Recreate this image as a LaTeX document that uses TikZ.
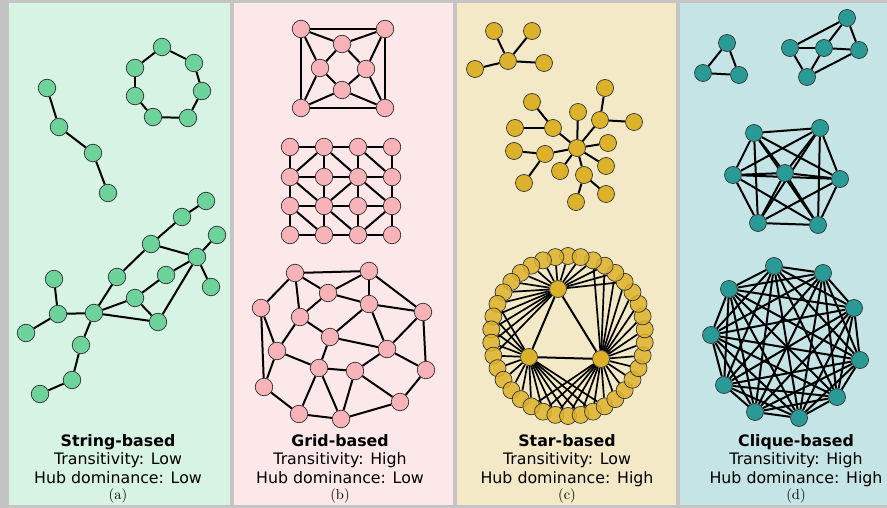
\documentclass[tikz,border=0pt]{standalone}
\usepackage{fontspec}
\newfontfamily\dejavu{DejaVu Sans}
\newfontfamily\lmserif[Extension=.otf]{lmroman10-regular}
\pgfdeclarelayer{bg}
\pgfdeclarelayer{edgelayer}
\pgfsetlayers{bg,edgelayer,main}
\definecolor{bordc}{RGB}{196,196,196}
\definecolor{panA}{RGB}{214,243,228}
\definecolor{panB}{RGB}{253,232,233}
\definecolor{panC}{RGB}{244,233,198}
\definecolor{panD}{RGB}{197,228,230}
\definecolor{nodeA}{RGB}{110,210,155}
\definecolor{nodeB}{RGB}{247,179,183}
\definecolor{nodeC}{RGB}{221,178,43}
\definecolor{nodeD}{RGB}{42,154,150}
\begin{document}
\begin{tikzpicture}[x=1pt,y=-1pt,
  nd/.style={circle, inner sep=0pt, line width=0.7pt, draw=black!80},
  na/.style={nd, fill=nodeA, minimum size=17.5pt},
  nb/.style={nd, fill=nodeB, minimum size=17.5pt},
  nc/.style={nd, fill=nodeC, minimum size=17pt},
  nr/.style={nd, fill=nodeC, fill opacity=0.85, minimum size=17pt},
  ndd/.style={nd, fill=nodeD, minimum size=17pt},
  edge/.style={line width=2pt, black},
  redge/.style={line width=1.7pt, black},
  lbl/.style={anchor=base, inner sep=0pt, font=\dejavu\fontsize{15.8}{18}\selectfont},
  ttl/.style={lbl, font=\dejavu\bfseries\fontsize{15.8}{18}\selectfont},
  sub/.style={anchor=base, inner sep=0pt, font=\lmserif\fontsize{14.5}{17}\selectfont}]
\useasboundingbox (0,0) rectangle (887,508);
\begin{pgfonlayer}{bg}
\fill[bordc] (0,0) rectangle (887,508);
\fill[panA] (9,3) rectangle (230,505);
\fill[panB] (234,3) rectangle (453,505);
\fill[panC] (457,3) rectangle (676,505);
\fill[panD] (680,3) rectangle (887,505);
\end{pgfonlayer}

% ---------- panel (a) ----------
\foreach \n/\x/\y in {A1/47/88, A2/59/127, A3/93/153, A4/108/193,
  H1/162/47, H2/194/63, H3/202/91, H4/188/118, H5/153/117, H6/135/96, H7/135/68,
  n1/206/201, n2/182/217, n3/151/244, n4/217/235, n5/197/257, n6/211/287,
  n7/166/275, n8/117/277, n9/54/279, n10/58/314, n11/94/313, n12/135/298,
  n13/158/322, n14/26/333, n15/81/345, n16/72/380, n17/40/394}
  \node[na] (\n) at (\x,\y) {};

% ---------- panel (b) ----------
\foreach \n/\x/\y in {S1/301/29, S2/385/29, S3/301/108, S4/385/108,
  I1/342/44, I2/320/68, I3/366/69, I4/342/90}
  \node[nb] (\n) at (\x,\y) {};
\foreach \r/\y in {0/147, 1/177, 2/206, 3/235}
  \foreach \c/\x in {0/290, 1/324, 2/358, 3/392}
    \node[nb] (g\r\c) at (\x,\y) {};
\foreach \n/\x/\y in {p1/295/273, p2/369/271, p3/328/293, p4/369/304, p5/261/308,
  p6/423/312, p7/300/317, p8/330/337, p9/277/351, p10/387/349, p11/319/368,
  p12/355/371, p13/426/370, p14/264/387, p15/400/402, p16/299/414, p17/341/419}
  \node[nb] (\n) at (\x,\y) {};

% ---------- panel (c) ----------
\foreach \n/\x/\y in {c0/508/61, c1/494/31, c2/532/31, c3/475/69, c4/544/63,
  Hc/577/148, a1/553/128, a1x/532/102, a1y/515/128,
  a2/545/154, a2x/514/151, a2y/524/183,
  a3/600/120, a3x/605/88, a3y/634/122,
  a4/584/175, a4x/576/202, a4y/606/194,
  b1/578/112, b2/608/143, b3/606/166, b4/560/171}
  \node[nc] (\n) at (\x,\y) {};
\foreach \k in {0,...,37}
  \node[nr] (r\k) at ({568+77*cos(90+\k*360/38)},{336-80*sin(90+\k*360/38)}) {};
\node[nc] (h1) at (558,289) {};
\node[nc] (h2) at (529,357) {};
\node[nc] (h3) at (601,359) {};

% ---------- panel (d) ----------
\foreach \n/\x/\y in {t1/727/43, t2/703/73, t3/739/75,
  q1/847/18, q2/790/48, q3/824/48, q4/859/50, q5/807/77,
  k1/754/133, k2/820/128, k3/733/175, k4/785/173, k5/840/179, k6/758/223, k7/818/225,
  s1/774/266, s2/823/273, s3/729/289, s4/854/308, s5/711/335,
  s6/860/360, s7/724/385, s8/837/397, s9/755/412, s10/799/418}
  \node[ndd] (\n) at (\x,\y) {};

% ---------- edges ----------
\begin{pgfonlayer}{edgelayer}
\foreach \u/\v in {A1/A2, A2/A3, A3/A4,
  H1/H2, H2/H3, H3/H4, H4/H5, H5/H6, H6/H7, H7/H1,
  n1/n2, n2/n3, n3/n5, n4/n5, n5/n7, n5/n6, n5/n13, n3/n8, n8/n11,
  n7/n12, n12/n11, n12/n13, n11/n13, n9/n10, n10/n11, n10/n14,
  n11/n15, n15/n16, n16/n17}
  \draw[edge] (\u) -- (\v);
\foreach \u/\v in {S1/S2, S1/S3, S2/S4, S3/S4, S1/I1, S2/I1, S1/I2, S3/I2,
  S2/I3, S4/I3, S3/I4, S4/I4, I1/I2, I1/I3, I2/I4, I3/I4,
  g00/g01, g01/g02, g02/g03, g10/g11, g11/g12, g12/g13,
  g20/g21, g21/g22, g22/g23, g30/g31, g31/g32, g32/g33,
  g00/g10, g10/g20, g20/g30, g01/g11, g11/g21, g21/g31,
  g02/g12, g12/g22, g22/g32, g03/g13, g13/g23, g23/g33,
  g01/g10, g01/g12, g02/g13, g10/g21, g12/g21, g12/g23, g20/g31, g21/g32, g23/g32,
  p1/p2, p1/p5, p1/p3, p1/p7, p2/p3, p2/p4, p2/p6, p3/p4, p3/p7, p4/p6, p4/p8,
  p4/p10, p5/p9, p5/p14, p6/p10, p6/p13, p7/p9, p7/p8, p8/p10, p8/p11, p9/p11,
  p9/p14, p10/p12, p10/p13, p11/p12, p11/p16, p11/p17, p12/p17, p12/p15,
  p13/p15, p14/p16, p16/p17, p17/p15}
  \draw[edge] (\u) -- (\v);
\foreach \u/\v in {c0/c1, c0/c2, c0/c3, c0/c4,
  Hc/a1, a1/a1x, a1/a1y, Hc/a2, a2/a2x, a2/a2y, Hc/a3, a3/a3x, a3/a3y,
  Hc/a4, a4/a4x, a4/a4y, Hc/b1, Hc/b2, Hc/b3, Hc/b4,
  h1/h2, h2/h3, h3/h1}
  \draw[edge] (\u) -- (\v);
\foreach \k in {0,...,37}{
  \pgfmathsetmacro\rth{mod(90+\k*360/38,360)}
  \ifdim\rth pt>35pt \ifdim\rth pt<195pt \draw[redge] (h1) -- (r\k); \fi\fi
  \ifdim\rth pt>150pt \ifdim\rth pt<300pt \draw[redge] (h2) -- (r\k); \fi\fi
  \ifdim\rth pt>240pt \draw[redge] (h3) -- (r\k); \fi
  \ifdim\rth pt<75pt \draw[redge] (h3) -- (r\k); \fi
}
\foreach \u/\v in {t1/t2, t2/t3, t3/t1,
  q1/q2, q1/q3, q1/q4, q2/q3, q3/q4, q2/q5, q3/q5, q5/q4}
  \draw[edge] (\u) -- (\v);
\foreach \i [evaluate=\i as \m using int(\i+1)] in {1,...,6}
  \foreach \j in {\m,...,7}
    \draw[edge] (k\i) -- (k\j);
\foreach \i [evaluate=\i as \m using int(\i+1)] in {1,...,9}
  \foreach \j in {\m,...,10}
    \draw[edge] (s\i) -- (s\j);
\end{pgfonlayer}

% ---------- labels ----------
\node[ttl] (ta1) at (118,446) {String-based};
\node[lbl] (ta2) at (118,464) {Transitivity: Low};
\node[lbl] (ta3) at (118,483) {Hub dominance: Low};
\node[sub] (ta4) at (118,499) {(a)};
\node[ttl] (tb1) at (340,446) {Grid-based};
\node[lbl] (tb2) at (340,464) {Transitivity: High};
\node[lbl] (tb3) at (340,483) {Hub dominance: Low};
\node[sub] (tb4) at (340,499) {(b)};
\node[ttl] (tc1) at (567,446) {Star-based};
\node[lbl] (tc2) at (567,464) {Transitivity: Low};
\node[lbl] (tc3) at (567,483) {Hub dominance: High};
\node[sub] (tc4) at (567,499) {(c)};
\node[ttl] (td1) at (796,446) {Clique-based};
\node[lbl] (td2) at (796,464) {Transitivity: High};
\node[lbl] (td3) at (796,483) {Hub dominance: High};
\node[sub] (td4) at (796,499) {(d)};
\end{tikzpicture}
\end{document}
